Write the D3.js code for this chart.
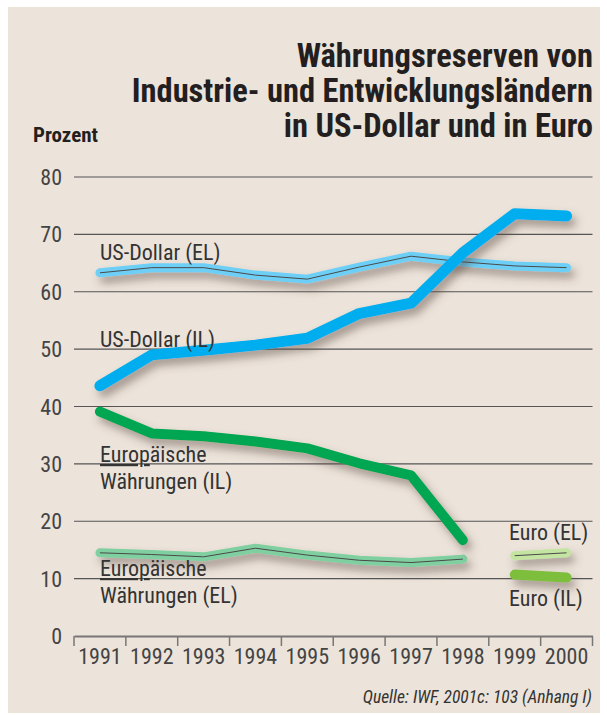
<!DOCTYPE html>
<html>
<head>
<meta charset="utf-8">
<script src="https://cdn.jsdelivr.net/npm/d3@7"></script>
<style>
  body { margin: 0; background: #fff; }
  svg text { font-family: "Liberation Sans Narrow", "Roboto Condensed", "DejaVu Sans Condensed", sans-serif; }
</style>
</head>
<body>
<div id="chart"></div>
<script>
// values (percent)
const years = [1991, 1992, 1993, 1994, 1995, 1996, 1997, 1998, 1999, 2000];
const yTicks = [0, 10, 20, 30, 40, 50, 60, 70, 80];
const usdEL = [63.3, 64.2, 64.2, 62.9, 62.2, 64.3, 66.2, 65.2, 64.5, 64.2];
const usdIL = [43.6, 49.0, 49.8, 50.7, 51.9, 56.2, 58.0, 66.8, 73.6, 73.2];
const europIL = [39.1, 35.3, 34.8, 33.9, 32.7, 30.1, 28.0, 16.7, null, null];
const europEL = [14.5, 14.2, 13.8, 15.3, 14.1, 13.2, 12.8, 13.4, null, null];
const euroEL = [null, null, null, null, null, null, null, null, 14.0, 14.5];
const euroIL = [null, null, null, null, null, null, null, null, 10.7, 10.2];

const width = 607, height = 715;
const svg = d3.select("#chart").append("svg")
  .attr("width", width).attr("height", height);

// drop shadow used under the lines (whole canvas as filter region so flat lines are not clipped)
const defs = svg.append("defs");
defs.append("filter").attr("id", "shadow")
  .attr("filterUnits", "userSpaceOnUse")
  .attr("x", 0).attr("y", 0).attr("width", width).attr("height", height)
  .append("feDropShadow")
  .attr("dx", 4).attr("dy", 6).attr("stdDeviation", 4)
  .attr("flood-color", "#5a4c40").attr("flood-opacity", 0.5);

svg.append("rect").attr("x", 8).attr("y", 7).attr("width", 592).attr("height", 706)
  .attr("fill", "#ece3da");

const x = d3.scaleBand().domain(years).range([74, 592.5]);
const y = d3.scaleLinear().domain([0, 80]).range([636, 177]);
const xc = d => x(d) + x.bandwidth() / 2;

// title
const title = svg.append("text")
  .attr("text-anchor", "end")
  .attr("font-weight", "bold")
  .attr("font-size", 32.5)
  .attr("fill", "#231f20");
["Währungsreserven von", "Industrie- und Entwicklungsländern", "in US-Dollar und in Euro"]
  .forEach((t, i) => title.append("tspan").attr("x", 593).attr("y", 67 + i * 35).text(t));

svg.append("text").attr("x", 33).attr("y", 142)
  .attr("font-weight", "bold").attr("font-size", 21).attr("fill", "#231f20")
  .text("Prozent");

// grid lines + y labels
const grid = svg.append("g");
grid.selectAll("line").data(yTicks.filter(d => d > 0)).join("line")
  .attr("x1", 74).attr("x2", 592.5)
  .attr("y1", d => y(d)).attr("y2", d => y(d))
  .attr("stroke", "#555").attr("stroke-width", 1.2);
grid.selectAll("text").data(yTicks).join("text")
  .attr("x", 62).attr("y", d => y(d) + 8)
  .attr("text-anchor", "end").attr("font-size", 22).attr("fill", "#444")
  .text(d => d);

// x axis at zero
const xAxis = d3.axisBottom(x).tickSize(0).tickSizeOuter(0).tickPadding(12);
const gx = svg.append("g").attr("transform", `translate(0,${y(0)})`).call(xAxis);
gx.select(".domain").attr("stroke", "#777").attr("stroke-width", 2);
gx.selectAll("text").attr("font-size", 22).attr("fill", "#444")
  .attr("font-family", null);
const edges = years.map(d => x(d)).concat([x(years[years.length - 1]) + x.bandwidth()]);
gx.selectAll(".edge").data(edges).join("line").attr("class", "edge")
  .attr("x1", d => d).attr("x2", d => d).attr("y1", 0).attr("y2", 10)
  .attr("stroke", "#777").attr("stroke-width", 1.5);

const line = d3.line()
  .defined(d => d.v != null)
  .x(d => xc(d.year)).y(d => y(d.v));
const pts = arr => years.map((yr, i) => ({ year: yr, v: arr[i] }));

// series: thick coloured stroke, EL series get a thin dark centre line
const series = [
  { vals: europEL, color: "#80cfa0", w: 9, inner: true },
  { vals: usdEL, color: "#6dcff6", w: 9, inner: true },
  { vals: europIL, color: "#00a651", w: 10, inner: false },
  { vals: usdIL, color: "#00aeef", w: 11, inner: false },
  { vals: euroEL, color: "#c4e4a2", w: 9, inner: true },
  { vals: euroIL, color: "#7dbf3e", w: 10, inner: false }
];
const gl = svg.append("g");
series.forEach(s => {
  const g = gl.append("g").attr("filter", "url(#shadow)");
  g.append("path").attr("d", line(pts(s.vals)))
    .attr("fill", "none").attr("stroke", s.color).attr("stroke-width", s.w)
    .attr("stroke-linecap", "round").attr("stroke-linejoin", "round");
  if (s.inner) {
    g.append("path").attr("d", line(pts(s.vals)))
      .attr("fill", "none").attr("stroke", "#4a4a4a").attr("stroke-width", 1);
  }
});

// series labels
const lab = svg.append("g").attr("font-size", 22).attr("fill", "#333");
const addLabel = (lines, lx, ly) => {
  lines.forEach((t, i) => {
    const tx = lab.append("text").attr("x", lx).attr("y", ly + i * 27);
    if (t.startsWith("Europ")) {
      tx.append("tspan").attr("text-decoration", "underline").text("Europ");
      tx.append("tspan").text(t.slice(5));
    } else {
      tx.text(t);
    }
  });
};
addLabel(["US-Dollar (EL)"], 100, 260);
addLabel(["US-Dollar (IL)"], 100, 347);
addLabel(["Europäische", "Währungen (IL)"], 100, 462);
addLabel(["Europäische", "Währungen (EL)"], 100, 576);
addLabel(["Euro (EL)"], 509, 540);
addLabel(["Euro (IL)"], 509, 606);

svg.append("text").attr("x", 592).attr("y", 703)
  .attr("text-anchor", "end").attr("font-size", 17.5).attr("font-style", "italic")
  .attr("fill", "#333")
  .text("Quelle: IWF, 2001c: 103 (Anhang I)");
</script>
</body>
</html>
